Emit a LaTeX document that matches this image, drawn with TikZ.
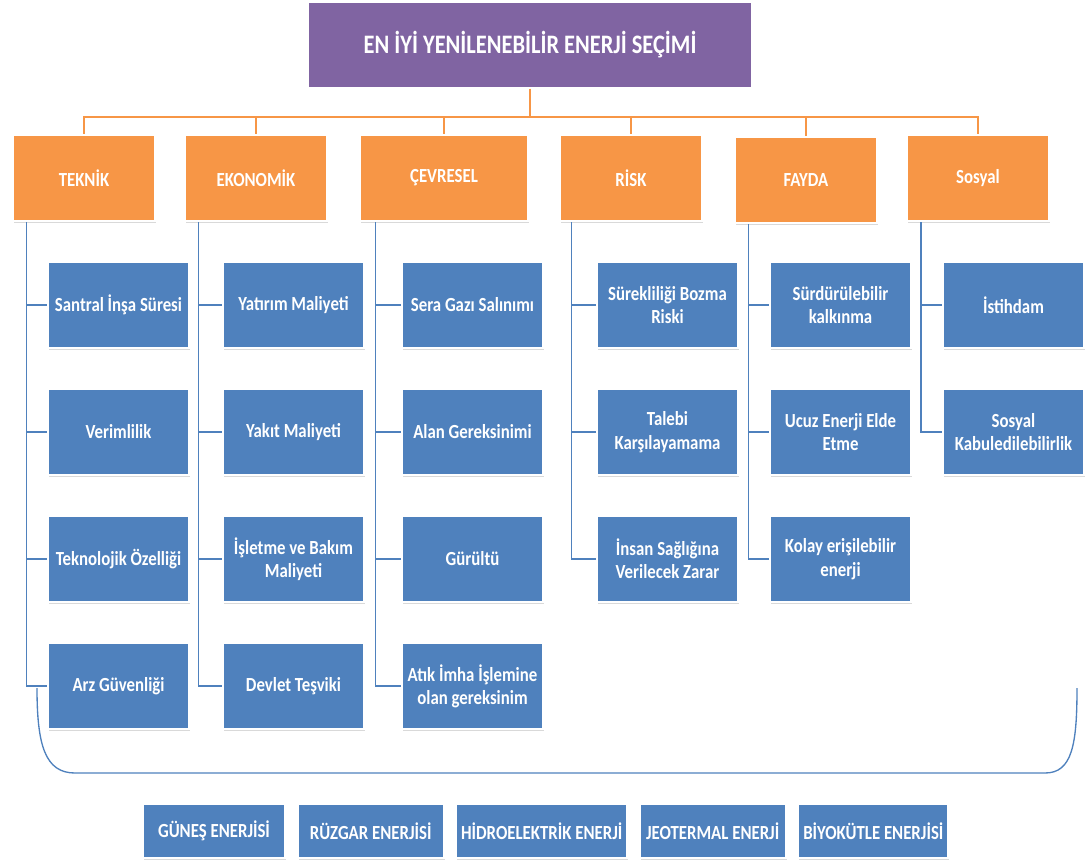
\documentclass[tikz,border=0pt]{standalone}
\usepackage{fontspec}
\setmainfont{Carlito}[FakeStretch=0.84]
\usetikzlibrary{positioning,shadows}
\definecolor{titlepurple}{HTML}{8064A2}
\definecolor{critorange}{HTML}{F79646}
\definecolor{subblue}{HTML}{4F81BD}

\begin{document}
\begin{tikzpicture}[
    x=0.75pt, y=-0.75pt,
    node distance=29.25pt,
    box/.style={rectangle, draw=white, line width=1.5pt, text=white, align=center, font=\bfseries\fontsize{15}{17.5}\selectfont, drop shadow={shadow xshift=0.8pt, shadow yshift=-1.2pt, opacity=0.3}},
    titlebox/.style={box, fill=titlepurple, minimum width=333pt, minimum height=64pt, font=\bfseries\fontsize{20}{24}\selectfont},
    critbox/.style={box, fill=critorange, minimum width=106pt, minimum height=65pt, font=\bfseries\fontsize{15}{17}\selectfont},
    subbox/.style={box, fill=subblue, minimum width=106pt, minimum height=64.5pt},
    srcbox/.style={box, fill=subblue, minimum height=40.5pt, inner xsep=1pt},
    oline/.style={critorange, line width=1.6pt},
    bline/.style={subblue, line width=1.2pt}
]
\useasboundingbox (0,0) rectangle (1091,865);

% Title
\node (title) [titlebox] at (530,45) {EN İYİ YENİLENEBİLİR ENERJİ SEÇİMİ};

% Row 1: criteria
\node (teknik) [critbox] at (84,178) {TEKNİK};
\node (ekonomik) [critbox] at (256,178) {EKONOMİK};
\node (cevresel) [critbox, minimum width=126pt] at (444,178) {ÇEVRESEL};
\node (risk) [critbox] at (631,178) {RİSK};
\node (fayda) [critbox] at (806,180) {FAYDA};
\node (sosyal) [critbox] at (978,178) {Sosyal};

% Column 1: TEKNİK
\node (tek1) [subbox] at (118.5,305) {Santral İnşa Süresi};
\node (tek2) [subbox, below=of tek1] {Verimlilik};
\node (tek3) [subbox, below=of tek2] {Teknolojik Özelliği};
\node (tek4) [subbox, below=of tek3] {Arz Güvenliği};

% Column 2: EKONOMİK
\node (eko1) [subbox] at (293.5,305) {Yatırım Maliyeti};
\node (eko2) [subbox, below=of eko1] {Yakıt Maliyeti};
\node (eko3) [subbox, below=of eko2] {İşletme ve Bakım\\Maliyeti};
\node (eko4) [subbox, below=of eko3] {Devlet Teşviki};

% Column 3: ÇEVRESEL
\node (cev1) [subbox] at (472.5,305) {Sera Gazı Salınımı};
\node (cev2) [subbox, below=of cev1] {Alan Gereksinimi};
\node (cev3) [subbox, below=of cev2] {Gürültü};
\node (cev4) [subbox, below=of cev3] {Atık İmha İşlemine\\olan gereksinim};

% Column 4: RİSK
\node (ris1) [subbox] at (667.5,305) {Sürekliliği Bozma\\Riski};
\node (ris2) [subbox, below=of ris1] {Talebi\\Karşılayamama};
\node (ris3) [subbox, below=of ris2] {İnsan Sağlığına\\Verilecek Zarar};

% Column 5: FAYDA
\node (fay1) [subbox] at (840.5,305) {Sürdürülebilir\\kalkınma};
\node (fay2) [subbox, below=of fay1] {Ucuz Enerji Elde\\Etme};
\node (fay3) [subbox, below=of fay2] {Kolay erişilebilir\\enerji};

% Column 6: Sosyal
\node (sos1) [subbox] at (1013.5,305) {İstihdam};
\node (sos2) [subbox, below=of sos1] {Sosyal\\Kabuledilebilirlik};

% Bottom row: alternatives
\node (gunes) [srcbox, minimum width=106.5pt] at (214,831) {GÜNEŞ ENERJİSİ};
\node (ruzgar) [srcbox, minimum width=109.5pt, right=8pt of gunes] {RÜZGAR ENERJİSİ};
\node (hidro) [srcbox, minimum width=128pt, right=8pt of ruzgar] {HİDROELEKTRİK ENERJİ};
\node (jeo) [srcbox, minimum width=109.5pt, right=8pt of hidro] {JEOTERMAL ENERJİ};
\node (biyo) [srcbox, minimum width=112.5pt, right=8pt of jeo] {BİYOKÜTLE ENERJİSİ};

% Title to criteria
\coordinate (bus) at (530,117);
\draw[oline] (title.south) -- (bus);
\draw[oline] (teknik.north) |- (bus);
\draw[oline] (ekonomik.north) |- (bus);
\draw[oline] (cevresel.north) |- (bus);
\draw[oline] (risk.north) |- (bus);
\draw[oline] (fayda.north) |- (bus);
\draw[oline] (sosyal.north) |- (bus);

% Criteria to sub-criteria
\draw[bline] ([xshift=10.5pt]teknik.south west) |- (tek1.west);
\draw[bline] ([xshift=10.5pt]teknik.south west) |- (tek2.west);
\draw[bline] ([xshift=10.5pt]teknik.south west) |- (tek3.west);
\draw[bline] ([xshift=10.5pt]teknik.south west) |- (tek4.west);
\draw[bline] ([xshift=10.5pt]ekonomik.south west) |- (eko1.west);
\draw[bline] ([xshift=10.5pt]ekonomik.south west) |- (eko2.west);
\draw[bline] ([xshift=10.5pt]ekonomik.south west) |- (eko3.west);
\draw[bline] ([xshift=10.5pt]ekonomik.south west) |- (eko4.west);
\draw[bline] ([xshift=12.5pt]cevresel.south west) |- (cev1.west);
\draw[bline] ([xshift=12.5pt]cevresel.south west) |- (cev2.west);
\draw[bline] ([xshift=12.5pt]cevresel.south west) |- (cev3.west);
\draw[bline] ([xshift=12.5pt]cevresel.south west) |- (cev4.west);
\draw[bline] ([xshift=9pt]risk.south west) |- (ris1.west);
\draw[bline] ([xshift=9pt]risk.south west) |- (ris2.west);
\draw[bline] ([xshift=9pt]risk.south west) |- (ris3.west);
\draw[bline] ([xshift=10.5pt]fayda.south west) |- (fay1.west);
\draw[bline] ([xshift=10.5pt]fayda.south west) |- (fay2.west);
\draw[bline] ([xshift=10.5pt]fayda.south west) |- (fay3.west);
\draw[bline] ([xshift=11pt]sosyal.south west) |- (sos1.west);
\draw[bline] ([xshift=11pt]sosyal.south west) |- (sos2.west);

% Brace over the alternatives
\coordinate (brL) at (37,688);
\coordinate (brR) at (1077,688);
\draw[bline, line width=1pt] (brL) .. controls (37,745) and (45,773) .. (75,773) -- (1045,773) .. controls (1072,773) and (1077,745) .. (brR);

\end{tikzpicture}
\end{document}
